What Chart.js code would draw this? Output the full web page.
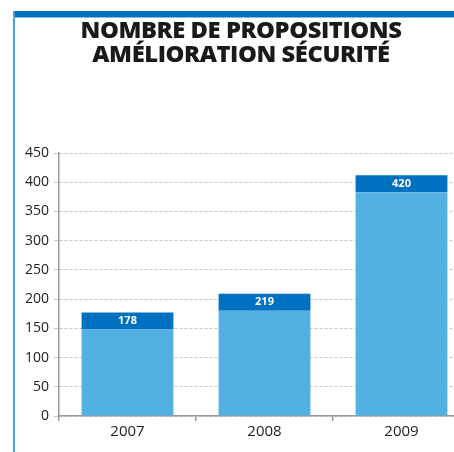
<!DOCTYPE html>
<html>
<head>
<meta charset="utf-8">
<script src="https://cdn.jsdelivr.net/npm/chart.js@4/dist/chart.umd.min.js"></script>
<style>
	html, body { margin: 0; padding: 0; width: 454px; height: 452px; overflow: hidden; background: #fff; }
	#wrap { position: relative; width: 454px; height: 452px; }
	#topbar { position: absolute; left: 13px; top: 11px; width: 441px; height: 6px; background: #0070c0; border-bottom: 1px solid #7fbce6; }
	#leftbar { position: absolute; left: 13px; top: 11px; width: 2px; height: 441px; background: #4fa3dc; }
	#title { position: absolute; left: 0; top: 17px; width: 482px; text-align: center; font: 800 22px "Open Sans", sans-serif; line-height: 24px; color: #1a1a1a; letter-spacing: -0.4px; transform: scaleX(1.08); transform-origin: 241px 0; }
	#chart { position: absolute; left: 0; top: 0; }
</style>
</head>
<body>
<div id="wrap">
	<canvas id="chart" width="470" height="452"></canvas>
	<div id="topbar"></div>
	<div id="leftbar"></div>
	<div id="title">NOMBRE DE PROPOSITIONS<br>AMÉLIORATION SÉCURITÉ</div>
</div>
<script>
	// Values.
	const years = [ '2007', '2008', '2009' ];
	const baseValues = [ 148, 180, 383 ];
	const capValues = [ 29, 29, 29 ];
	const capLabels = [ '178', '219', '420' ];
	const yTicks = [ 0, 50, 100, 150, 200, 250, 300, 350, 400, 450 ];

	const font = 'Open Sans';

	// White numbers centred inside the dark cap of each bar.
	const capText = {
		id: 'capText',
		afterDatasetsDraw( chart ) {
			const ctx = chart.ctx;
			const meta = chart.getDatasetMeta( 1 );
			ctx.save();
			ctx.fillStyle = '#fff';
			ctx.font = `bold 11px "${ font }"`;
			ctx.textAlign = 'center';
			ctx.textBaseline = 'middle';
			meta.data.forEach( ( bar, i ) => {
				ctx.fillText( capLabels[ i ], bar.x, ( bar.y + bar.base ) / 2 );
			} );
			ctx.restore();
		},
	};

	new Chart( document.getElementById( 'chart' ), {
		type: 'bar',
		data: {
			labels: years,
			datasets: [
				{ data: baseValues, backgroundColor: '#53b0e3', barPercentage: 0.67, categoryPercentage: 1 },
				{ data: capValues, backgroundColor: '#0070c0', barPercentage: 0.67, categoryPercentage: 1 },
			],
		},
		options: {
			responsive: false,
			animation: false,
			layout: { padding: { top: 153, left: 0, right: 0, bottom: 0 } },
			plugins: { legend: { display: false }, tooltip: { enabled: false } },
			scales: {
				x: {
					stacked: true,
					offset: true,
					afterFit: ( s ) => { s.height = 36; },
					border: { color: '#999', width: 1.5 },
					grid: { offset: true, drawOnChartArea: false, drawTicks: true, tickLength: 5, color: '#999', lineWidth: 1.5 },
					ticks: { color: '#222', font: { family: font, size: 15 }, padding: 2 },
				},
				y: {
					stacked: true,
					min: 0,
					max: 450,
					afterFit: ( s ) => { s.width = 59; },
					afterBuildTicks: ( s ) => { s.ticks = yTicks.map( ( v ) => ( { value: v } ) ); },
					border: { color: '#999', width: 1.5, dash: [ 3, 2 ] },
					grid: { color: '#c8c8c8', lineWidth: 1, tickLength: 5, tickColor: '#c8c8c8' },
					ticks: { color: '#222', font: { family: font, size: 14 }, padding: 5 },
				},
			},
		},
		plugins: [ capText ],
	} );
</script>
</body>
</html>
